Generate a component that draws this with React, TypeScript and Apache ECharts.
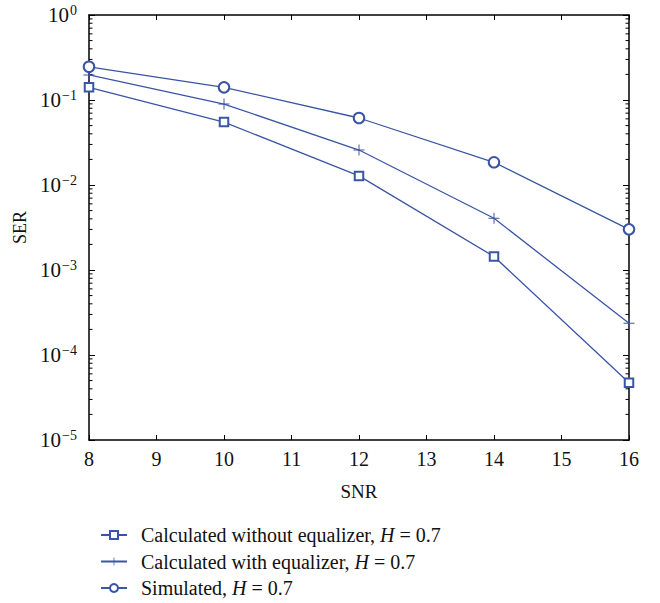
import React, { useEffect, useRef } from "react";
import * as echarts from "echarts";

const snr = [8, 10, 12, 14, 16];
const serNoEq = [0.141, 0.055, 0.0128, 0.00144, 4.72e-5];
const serEq = [0.197, 0.0897, 0.0258, 0.00406, 0.000236];
const serSim = [0.246, 0.141, 0.0614, 0.0185, 0.00301];
const seriesNames = [
  "Calculated without equalizer, H = 0.7",
  "Calculated with equalizer, H = 0.7",
  "Simulated, H = 0.7",
];
const decades = [-5, -4, -3, -2, -1];
const minorMultipliers = [2, 3, 4, 5, 6, 7, 8, 9];

const BLUE = "#3b55a5";
const FONT = "Liberation Serif";
const PLUS = "path://M4.55,0h0.9v10h-0.9z M0,4.55h10v0.9h-10z";

export default function App() {
  const ref = useRef<HTMLDivElement>(null);
  useEffect(() => {
    if (!ref.current) return;
    const chart = echarts.init(ref.current, null, { renderer: "svg" });
    const minorVals: number[][] = [];
    decades.forEach((d) =>
      minorMultipliers.forEach((m) => minorVals.push([8, m * Math.pow(10, d)]))
    );
    const sup = (v: number) => {
      const e = Math.round(Math.log10(v));
      return "10{e|" + (e < 0 ? "\u2212" + -e : String(e)) + "}";
    };
    const lineSeries = (name: string, data: number[], symbol: string, size: number, bw: number) => ({
      name,
      type: "line",
      data: snr.map((x, i) => [x, data[i]]),
      symbol,
      symbolSize: size,
      showAllSymbol: true,
      lineStyle: { color: BLUE, width: 1.3 },
      itemStyle: { color: BLUE, borderColor: BLUE, borderWidth: bw },
      emphasis: { disabled: true },
      z: 3,
    });
    chart.setOption({
      animation: false,
      backgroundColor: "#ffffff",
      grid: { left: 89, right: 31, top: 15, bottom: 163 },
      xAxis: [
        {
          type: "value",
          min: 8,
          max: 16,
          interval: 1,
          name: "SNR",
          nameLocation: "middle",
          nameGap: 42,
          nameTextStyle: { fontFamily: FONT, fontSize: 19, color: "#111" },
          axisLine: { show: true, onZero: false, lineStyle: { color: "#000", width: 1.5 } },
          axisTick: { show: true, inside: true, length: 5, lineStyle: { color: "#000" } },
          axisLabel: { fontFamily: FONT, fontSize: 20, color: "#111", margin: 9 },
          splitLine: { show: false },
        },
        {
          type: "value",
          position: "top",
          min: 8,
          max: 16,
          interval: 1,
          axisLine: { show: true, onZero: false, lineStyle: { color: "#000", width: 1.5 } },
          axisTick: { show: true, inside: true, length: 5, lineStyle: { color: "#000" } },
          axisLabel: { show: false },
          splitLine: { show: false },
        },
      ],
      yAxis: [
        {
          type: "log",
          logBase: 10,
          min: 1e-5,
          max: 1,
          name: "SER",
          nameLocation: "middle",
          nameGap: 56,
          nameRotate: 90,
          nameTextStyle: { fontFamily: FONT, fontSize: 18, color: "#111" },
          axisLine: { show: true, onZero: false, lineStyle: { color: "#000", width: 1.5 } },
          axisTick: { show: true, inside: true, length: 6, lineStyle: { color: "#000" } },
          axisLabel: {
            formatter: sup,
            margin: 12,
            color: "#111",
            fontFamily: FONT,
            fontSize: 21,
            rich: {
              e: { fontFamily: FONT, fontSize: 14, color: "#111", verticalAlign: "top", padding: [0, 0, 10, 1] },
            },
          },
          splitLine: { show: false },
        },
        {
          type: "log",
          logBase: 10,
          min: 1e-5,
          max: 1,
          position: "right",
          axisLine: { show: true, onZero: false, lineStyle: { color: "#000", width: 1.5 } },
          axisTick: { show: true, inside: true, length: 6, lineStyle: { color: "#000" } },
          axisLabel: { show: false },
          splitLine: { show: false },
        },
      ],
      legend: {
        orient: "vertical",
        left: 100,
        top: 524,
        padding: 0,
        itemWidth: 26,
        itemHeight: 10,
        itemGap: 4.5,
        selectedMode: false,
        data: seriesNames,
        formatter: (name: string) => name.replace("H", "{i|H}"),
        textStyle: {
          fontFamily: FONT,
          fontSize: 20,
          lineHeight: 22,
          color: "#111",
          padding: [0, 0, 0, 9],
          rich: { i: { fontFamily: FONT, fontSize: 20, lineHeight: 22, fontStyle: "italic", color: "#111" } },
        },
      },
      series: [
        lineSeries(seriesNames[0], serNoEq, "emptyRect", 8.5, 1),
        lineSeries(seriesNames[1], serEq, PLUS, 11, 0),
        lineSeries(seriesNames[2], serSim, "emptyCircle", 10.5, 1),
        {
          type: "custom",
          silent: true,
          data: minorVals,
          clip: false,
          renderItem: (params: any, api: any) => {
            const v = api.value(1);
            const l = api.coord([8, v]);
            const r = api.coord([16, v]);
            const st = { stroke: "#000", lineWidth: 1 };
            return {
              type: "group",
              children: [
                { type: "line", shape: { x1: l[0], y1: l[1], x2: l[0] + 3.5, y2: l[1] }, style: st },
                { type: "line", shape: { x1: r[0], y1: r[1], x2: r[0] - 3.5, y2: r[1] }, style: st },
              ],
            };
          },
        },
      ],
    });
    return () => chart.dispose();
  }, []);
  return (
    <div
      ref={ref}
      style={{ position: "absolute", left: 0, top: 0, width: 660, height: 603 }}
    />
  );
}
